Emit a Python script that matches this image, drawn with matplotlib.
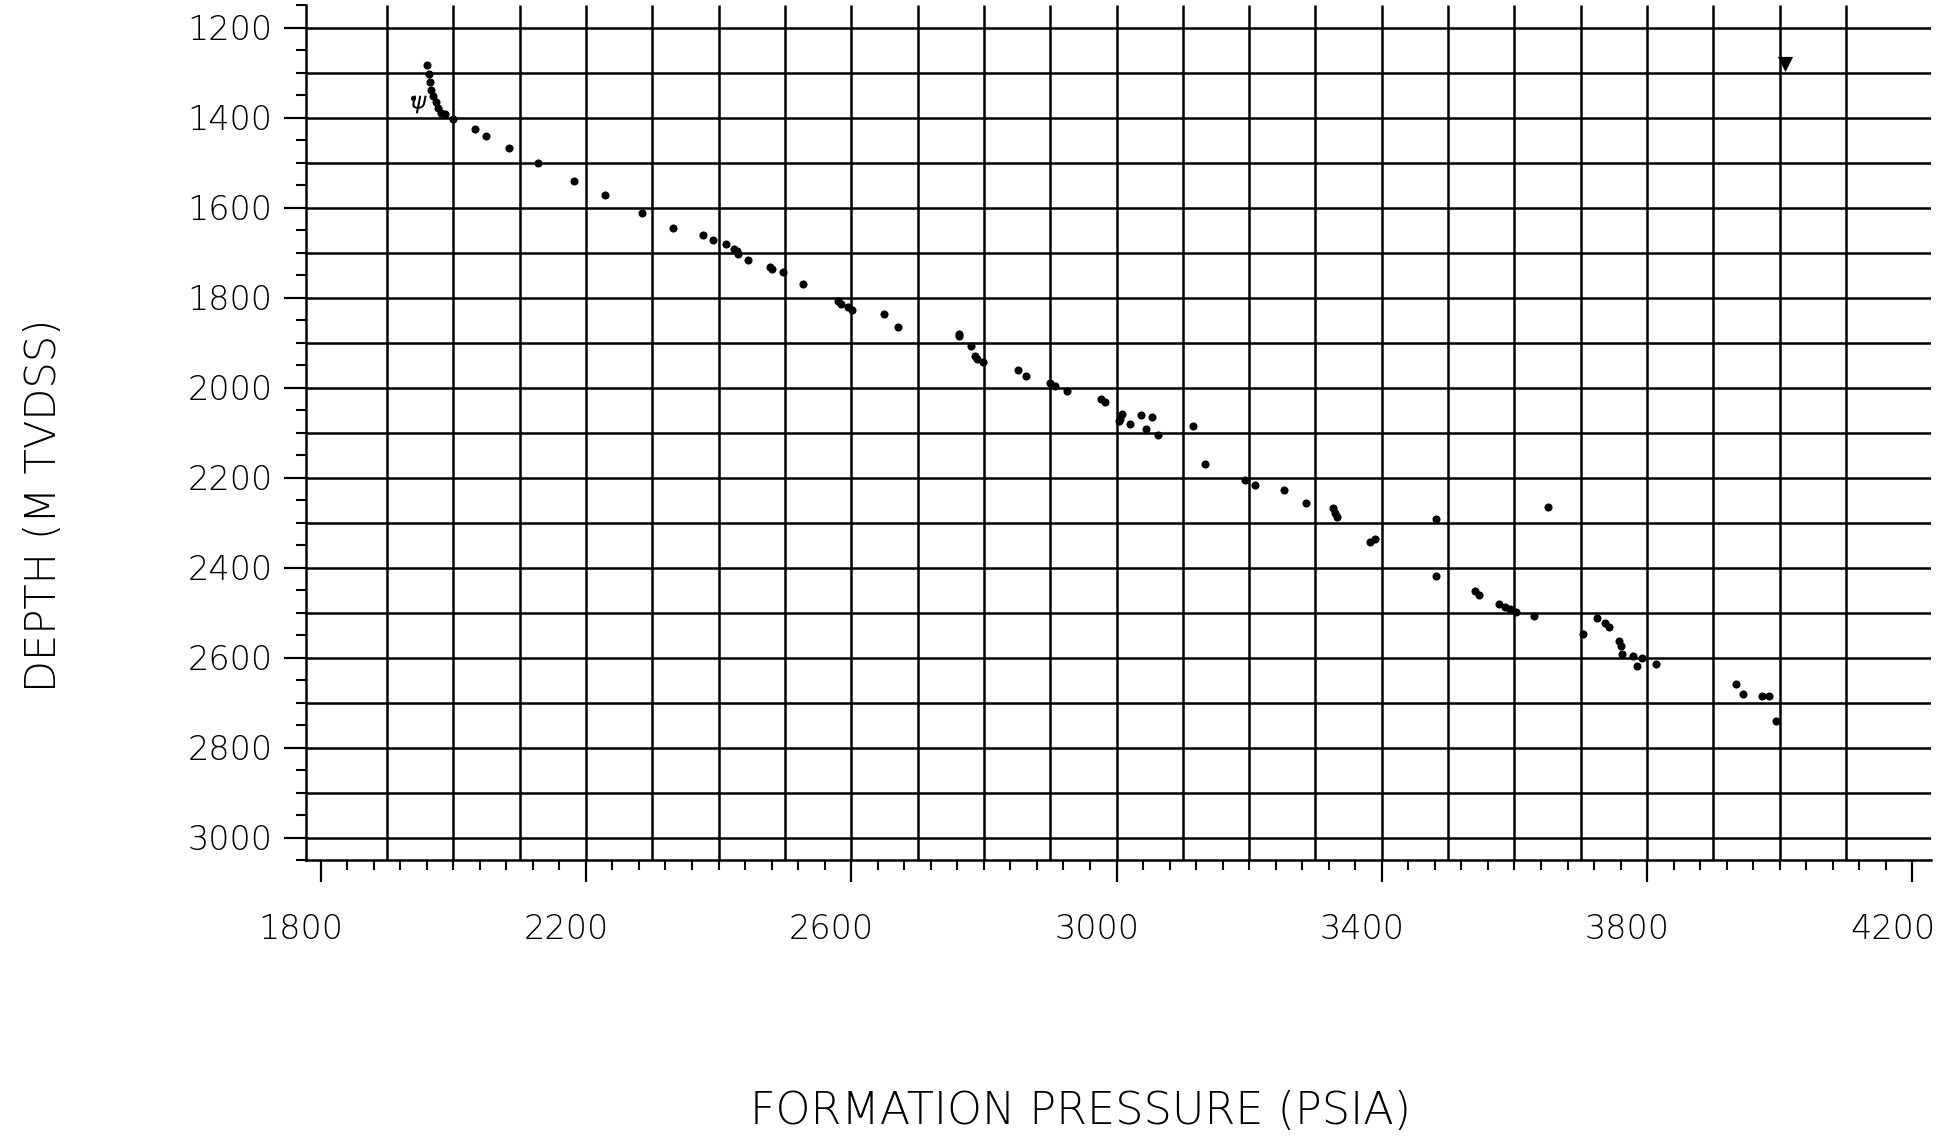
import numpy as np
import matplotlib
matplotlib.use("Agg")
import matplotlib.pyplot as plt
from matplotlib.ticker import FixedLocator, MultipleLocator
import matplotlib.transforms as mtransforms

# ---------------- data ----------------
pressure = [1961, 1964, 1965, 1967, 1970, 1974, 1977, 1982, 1988, 2000,
            2033, 2050, 2084, 2128, 2182, 2229, 2284, 2332, 2376, 2392,
            2411, 2423, 2428, 2430, 2445, 2478, 2481, 2497, 2528, 2580,
            2585, 2595, 2601, 2650, 2670, 2762, 2763, 2780, 2787, 2789,
            2798, 2851, 2863, 2900, 2907, 2925, 2976, 2983, 3005, 3008,
            3004, 3020, 3037, 3044, 3053, 3063, 3116, 3133, 3193, 3209,
            3252, 3286, 3327, 3330, 3332, 3382, 3390, 3482, 3650, 3482,
            3540, 3547, 3576, 3585, 3593, 3603, 3630, 3704, 3725, 3736,
            3742, 3758, 3760, 3762, 3778, 3785, 3793, 3813, 3934, 3944,
            3973, 3984, 3995]
depth = [1284, 1304, 1320, 1338, 1352, 1366, 1378, 1389, 1393, 1404,
         1426, 1440, 1468, 1502, 1540, 1572, 1612, 1646, 1660, 1672,
         1682, 1692, 1697, 1703, 1716, 1733, 1737, 1744, 1769, 1808,
         1815, 1820, 1827, 1837, 1865, 1880, 1886, 1908, 1930, 1937,
         1944, 1962, 1974, 1990, 1997, 2008, 2026, 2032, 2069, 2058,
         2074, 2082, 2061, 2093, 2065, 2106, 2086, 2169, 2206, 2217,
         2228, 2257, 2268, 2278, 2287, 2343, 2336, 2292, 2266, 2418,
         2452, 2460, 2480, 2487, 2493, 2499, 2508, 2547, 2513, 2524,
         2533, 2564, 2575, 2592, 2597, 2619, 2600, 2615, 2659, 2681,
         2686, 2686, 2741]

# hand-drawn odd symbols
scribble_pressure = [1940, 1948]
scribble_depth = [1357, 1370]
triangle_pressure = [4008]
triangle_depth = [1280]

x_ticks = [1800, 2200, 2600, 3000, 3400, 3800, 4200]
y_ticks = [1200, 1400, 1600, 1800, 2000, 2200, 2400, 2600, 2800, 3000]

x_label = "FORMATION PRESSURE (PSIA)"
y_label = "DEPTH (M TVDSS)"

# ---------------- figure ----------------
plt.rcParams["font.family"] = ["DejaVu Sans"]
W, H = 1957, 1142
fig = plt.figure(figsize=(W / 100, H / 100), dpi=100)
fig.patch.set_facecolor("white")

left_px, right_px, top_px, bottom_px = 306, 1931, 5, 860
ax = fig.add_axes([left_px / W, 1 - bottom_px / H,
                   (right_px - left_px) / W, (bottom_px - top_px) / H])

xmin, xmax = 1778, 4228
ymin, ymax = 1150, 3050
ax.set_xlim(xmin, xmax)
ax.set_ylim(ymax, ymin)

lw = 1.8
for s in ("top", "right"):
    ax.spines[s].set_visible(False)
for s in ("left", "bottom"):
    ax.spines[s].set_linewidth(lw)

# grid lines every 100 units
ax.hlines(np.arange(1200, 3001, 100), xmin, xmax, color="black", lw=lw, zorder=1)
ax.vlines(np.arange(1900, 4101, 100), ymin, ymax, color="black", lw=lw, zorder=1)

ax.xaxis.set_major_locator(FixedLocator(x_ticks))
ax.xaxis.set_minor_locator(MultipleLocator(40))
ax.yaxis.set_major_locator(FixedLocator(y_ticks))
ax.yaxis.set_minor_locator(MultipleLocator(50))
ax.set_xticklabels([str(v) for v in x_ticks])
ax.set_yticklabels([str(v) for v in y_ticks])

ax.tick_params(axis="both", which="major", length=16, width=1.6,
               direction="out", labelsize=24, colors="black")
ax.tick_params(axis="x", which="major", pad=22)
ax.tick_params(axis="y", which="major", pad=8)
ax.tick_params(axis="both", which="minor", length=7.5, width=1.5,
               direction="out")

offset = mtransforms.ScaledTranslation(-0.2, 0, fig.dpi_scale_trans)
for lab in ax.get_xticklabels():
    lab.set_transform(lab.get_transform() + offset)
    lab.set_fontweight("light")
for lab in ax.get_yticklabels():
    lab.set_fontweight("light")

# data
ax.scatter(pressure, depth, s=34, c="black", linewidths=0, zorder=3)
ax.scatter(scribble_pressure[:1], scribble_depth[:1], s=14, c="black",
           linewidths=0, zorder=3)
ax.scatter(scribble_pressure[1:], scribble_depth[1:], s=160, c="black",
           marker=r"$\psi$", linewidths=0, zorder=3)
ax.scatter(triangle_pressure, triangle_depth, s=120, c="black", marker="v",
           linewidths=0, zorder=3)

ax.set_xlabel(x_label, fontsize=32, fontweight="light")
ax.set_ylabel(y_label, fontsize=30, fontweight="light")
ax.xaxis.set_label_coords((1081 - left_px) / (right_px - left_px),
                          (bottom_px - 1111) / (bottom_px - top_px))
ax.xaxis.label.set_va("center")
ax.yaxis.set_label_coords((44 - left_px) / (right_px - left_px),
                          (bottom_px - 505) / (bottom_px - top_px))
ax.yaxis.label.set_va("center")
ax.yaxis.label.set_ha("center")

fig.savefig("out.png", dpi=100, facecolor="white")
